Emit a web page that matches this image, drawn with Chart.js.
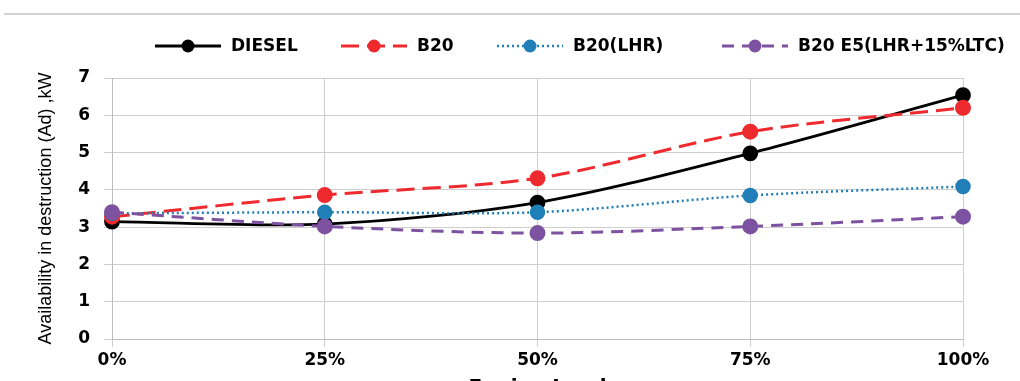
<!DOCTYPE html>
<html>
<head>
<meta charset="utf-8">
<script src="https://cdn.jsdelivr.net/npm/chart.js@4/dist/chart.umd.min.js"></script>
<style>
  html, body { margin: 0; padding: 0; background: #fff; overflow: hidden; }
  #wrap { position: relative; width: 1020px; height: 381px; overflow: hidden; background: #fff; }
  #rule { position: absolute; top: 13px; left: 4px; right: 0; height: 2px; background: #d2d2d2; }
  #chart { position: absolute; top: 0; left: 0; }
</style>
</head>
<body>
<div id="wrap">
  <div id="rule"></div>
  <canvas id="chart" width="1020" height="400"></canvas>
</div>
<script>
// Engine load categories and availability destruction (kW) per fuel
const loads = ["0%", "25%", "50%", "75%", "100%"];
const diesel = [3.15, 3.08, 3.66, 4.98, 6.54];
const b20 = [3.28, 3.86, 4.31, 5.56, 6.20];
const b20Lhr = [3.37, 3.40, 3.40, 3.85, 4.09];
const b20E5 = [3.40, 3.02, 2.84, 3.02, 3.28];
const yTicks = [0, 1, 2, 3, 4, 5, 6, 7];

const C = {
  black: "#000000",
  red: "#ee2a2f",
  blue: "#1f7fb6",
  purple: "#7d52a0",
  grid: "#cfcfcf",
  axis: "#bdbdbd",
};

const tickFont = { family: "'DejaVu Sans', sans-serif", size: 17, weight: "bold" };

// Excel-style legend: line sample with a marker in the middle, then the label
const legendPlugin = {
  id: "excelLegend",
  afterDraw(chart, args, opts) {
    const ctx = chart.ctx;
    ctx.save();
    chart.data.datasets.forEach((ds, i) => {
      const tx = opts.textX[i];
      const x0 = tx - opts.gap - opts.sample;
      const x1 = tx - opts.gap;
      const y = opts.y;
      ctx.strokeStyle = ds.borderColor;
      ctx.lineWidth = ds.borderWidth;
      ctx.setLineDash(ds.borderDash || []);
      ctx.beginPath();
      ctx.moveTo(x0, y);
      ctx.lineTo(x1, y);
      ctx.stroke();
      ctx.setLineDash([]);
      ctx.fillStyle = ds.pointBackgroundColor;
      ctx.beginPath();
      ctx.arc((x0 + x1) / 2, y, ds.pointRadius, 0, Math.PI * 2);
      ctx.fill();
      ctx.fillStyle = "#000";
      ctx.font = "bold 17px 'DejaVu Sans', sans-serif";
      ctx.textBaseline = "middle";
      ctx.fillText(ds.label, tx, y + 1);
    });
    ctx.restore();
  },
};

function series(label, data, color, dash, width, order) {
  return {
    label,
    data,
    borderColor: color,
    backgroundColor: color,
    pointBackgroundColor: color,
    pointBorderColor: color,
    borderWidth: width,
    borderDash: dash,
    pointRadius: 6.5,
    tension: 0.3,
    fill: false,
    order,
  };
}

new Chart(document.getElementById("chart"), {
  type: "line",
  data: {
    labels: loads,
    datasets: [
      series("DIESEL", diesel, C.black, [], 2.8, 3),
      series("B20", b20, C.red, [18, 8], 3, 2),
      series("B20(LHR)", b20Lhr, C.blue, [2, 3], 2.5, 1),
      series("B20 E5(LHR+15%LTC)", b20E5, C.purple, [12, 8], 3, 0),
    ],
  },
  options: {
    responsive: false,
    animation: false,
    layout: { padding: { top: 78, right: 57, left: 0, bottom: 0 } },
    plugins: {
      legend: { display: false },
      tooltip: { enabled: false },
      excelLegend: { textX: [231, 417, 573, 798], y: 46, sample: 66, gap: 10 },
    },
    scales: {
      x: {
        offset: false,
        grid: { color: C.grid, tickLength: 8, tickColor: C.grid },
        border: { color: C.axis },
        ticks: { color: "#000", font: tickFont, padding: 3, maxRotation: 0 },
        title: {
          display: true,
          text: "Engine Load",
          color: "#000",
          font: { family: "'DejaVu Sans', sans-serif", size: 20, weight: "bold" },
          padding: { top: 0, bottom: 0 },
        },
        afterFit: (s) => { s.height = 61; },
      },
      y: {
        min: 0,
        max: 7,
        afterBuildTicks: (s) => { s.ticks = yTicks.map((v) => ({ value: v })); },
        grid: { color: C.grid, tickLength: 8, tickColor: C.grid },
        border: { color: C.axis },
        ticks: { color: "#000", font: tickFont, padding: 14 },
        title: {
          display: true,
          text: "Availability in destruction (Ad) ,kW",
          color: "#000",
          font: { family: "'Liberation Sans Narrow', 'Arial Narrow', 'Liberation Sans', sans-serif", size: 18 },
          padding: { top: 35, bottom: 0 },
        },
        afterFit: (s) => { s.width = 112; },
      },
    },
  },
  plugins: [legendPlugin],
});
</script>
</body>
</html>
